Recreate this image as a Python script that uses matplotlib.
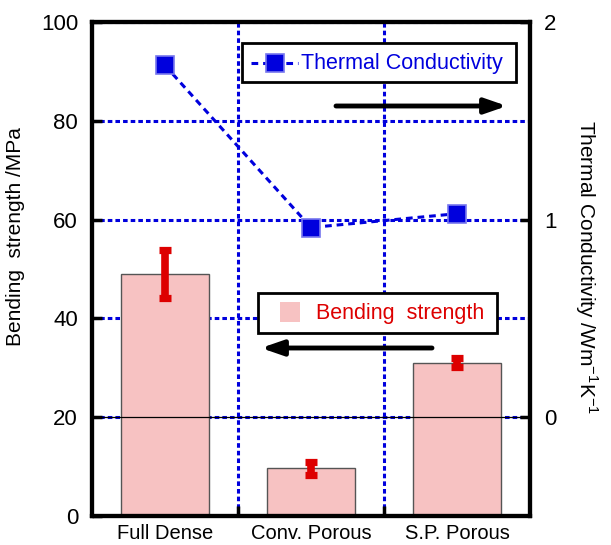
import matplotlib
matplotlib.use("Agg")
import matplotlib.pyplot as plt
import numpy as np
from matplotlib.patches import Rectangle
from matplotlib.lines import Line2D

plt.rcParams['font.family'] = ['Liberation Sans', 'DejaVu Sans']

categories = ["Full Dense", "Conv. Porous", "S.P. Porous"]
bending = [49.0, 9.7, 31.0]
bend_err_low = [44.1, 8.2, 30.1]
bend_err_high = [53.8, 11.0, 31.9]
thermal = [1.78, 0.96, 1.03]

x = np.arange(len(categories))
blue = '#0000dd'
red = '#dd0000'
pink = '#f7c2c2'

fig = plt.figure(figsize=(6.11, 5.45), dpi=100)
ax = fig.add_axes([92/611, 1-516/545, (530-92)/611, (516-22)/545])

# grid (blue dotted)
for gy in [20, 40, 60, 80, 100]:
    ax.axhline(gy, color=blue, lw=2.2, ls=(0, (1.5, 1)), zorder=0.5)
for gx in [0.5, 1.5]:
    ax.axvline(gx, color=blue, lw=2.2, ls=(0, (1.5, 1)), zorder=0.5)

ax.bar(x, bending, width=0.6, color=pink, edgecolor='#555555', lw=1, zorder=2)
ax.axhline(20, color='black', lw=0.9, zorder=2.5)

yerr = [np.array(bending) - np.array(bend_err_low), np.array(bend_err_high) - np.array(bending)]
ax.errorbar(x, bending, yerr=yerr, fmt='none', ecolor=red, elinewidth=5.5, capsize=4.4, capthick=5.2, zorder=3)

ax.set_xlim(-0.5, 2.5)
ax.set_ylim(0, 100)
ax.set_yticks([0, 20, 40, 60, 80, 100])
ax.set_xticks(x)
ax.set_xticklabels(categories, fontsize=14.5)
ax.tick_params(axis='x', length=0, pad=6)
ax.set_xticks([0.5, 1.5], minor=True)
ax.tick_params(axis='x', which='minor', direction='in', length=7, width=2.5)
ax.tick_params(axis='y', direction='in', length=7, width=2.5, labelsize=16, pad=10)
ax.set_ylabel("Bending  strength /MPa", fontsize=15)
ax.yaxis.set_label_coords(-0.153, 0.565)
for s in ax.spines.values():
    s.set_linewidth(3)

ax2 = ax.twinx()
ax2.set_ylim(-0.5, 2)
ax2.set_yticks([0, 1, 2])
ax2.tick_params(axis='y', direction='in', length=7, width=2.5, labelsize=16, pad=10)
ax2.plot(x, thermal, color=blue, ls=(0, (2.2, 1.6)), lw=2.2, marker='s', markersize=13,
         markerfacecolor=blue, markeredgecolor='#7777ee', markeredgewidth=1.2, zorder=4)
ax2.set_ylabel("Thermal Conductivity /Wm$^{\\mathregular{-1}}$K$^{\\mathregular{-1}}$", fontsize=15, rotation=-90,
               va='center', ha='center')
ax2.yaxis.set_label_coords(1.128, 0.504)
for s in ax2.spines.values():
    s.set_linewidth(3)

def px(xp, yp):
    return ((xp - 92) / (530 - 92), (516 - yp) / (516 - 22))

# legend box: thermal conductivity
ax2.add_patch(Rectangle(px(242, 82), (516-242)/438, (82-43)/494, transform=ax2.transAxes,
                        facecolor='white', edgecolor='black', lw=2, zorder=5))
lx0, ly = px(251, 63)
lx1, _ = px(298, 63)
ax2.add_line(Line2D([lx0, lx1], [ly, ly], transform=ax2.transAxes, color=blue, ls=(0, (2.2, 1.6)), lw=2.2, zorder=6))
ax2.add_line(Line2D([(lx0+lx1)/2], [ly], transform=ax2.transAxes, marker='s', markersize=13,
                    markerfacecolor=blue, markeredgecolor='#7777ee', markeredgewidth=1.2, zorder=6))
tx, _ = px(301, 63)
ax2.text(tx, ly, "Thermal Conductivity", transform=ax2.transAxes, color=blue, fontsize=15.5,
         va='center', ha='left', zorder=6)

# legend box: bending strength
ax2.add_patch(Rectangle(px(258, 333), (497-258)/438, (333-293)/494, transform=ax2.transAxes,
                        facecolor='white', edgecolor='black', lw=2, zorder=5))
bx, by = px(280, 322)
ax2.add_patch(Rectangle((bx, by), 20/438, 20/494, transform=ax2.transAxes,
                        facecolor=pink, edgecolor='none', zorder=6))
tx, ty = px(316, 314)
ax2.text(tx, ty, "Bending  strength", transform=ax2.transAxes, color=red, fontsize=15.5,
         va='center', ha='left', zorder=6)

# arrows
a0 = px(336, 106); a1 = px(507, 106)
ax2.annotate("", xy=a1, xytext=a0, xycoords='axes fraction', textcoords='axes fraction',
             arrowprops=dict(arrowstyle='-|>,head_length=1.3,head_width=0.45', color='black', lw=3.5, shrinkA=0, shrinkB=0), zorder=6)
b0 = px(432, 348); b1 = px(261, 348)
ax2.annotate("", xy=b1, xytext=b0, xycoords='axes fraction', textcoords='axes fraction',
             arrowprops=dict(arrowstyle='-|>,head_length=1.3,head_width=0.45', color='black', lw=3.5, shrinkA=0, shrinkB=0), zorder=6)

fig.savefig("out.png", dpi=100)
